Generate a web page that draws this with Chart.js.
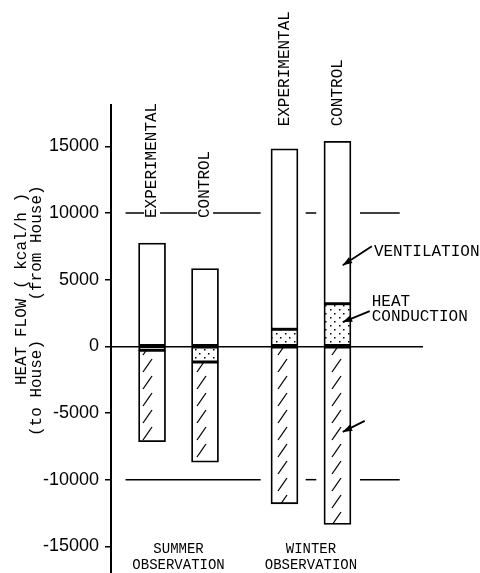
<!DOCTYPE html>
<html>
<head>
<meta charset="utf-8">
<script src="https://cdn.jsdelivr.net/npm/chart.js@4"></script>
<style>html,body{margin:0;padding:0;background:#fff}</style>
</head>
<body>
<canvas id="grafico" width="480" height="573"></canvas>
<script>
// Valores (kcal/h)
var grupos = [['SUMMER', 'OBSERVATION'], ['WINTER', 'OBSERVATION']];
var casas = ['EXPERIMENTAL', 'CONTROL', 'EXPERIMENTAL', 'CONTROL'];
var posX = [1, 3, 6, 8];              // posicao das colunas no eixo x
var ventilacao = [7750, 5830, 13530, 12170];
var conducao = [-300, -1180, 1280, 3200];
var paraCasa = [-6850, -7510, -11810, -13360];
var ticksY = [-15000, -10000, -5000, 0, 5000, 10000, 15000];

var MONO = '"Liberation Mono", "Courier New", monospace';

// textura pontilhada (conducao)
function padraoPontos() {
    var c = document.createElement('canvas');
    c.width = 9; c.height = 8;
    var g = c.getContext('2d');
    g.fillStyle = '#fff'; g.fillRect(0, 0, 9, 8);
    g.fillStyle = '#000';
    g.fillRect(1, 1, 1.5, 1.5);
    g.fillRect(6, 5, 1.5, 1.5);
    return g.createPattern(c, 'repeat');
}

// textura hachurada (fluxo para a casa)
function padraoHachura() {
    var c = document.createElement('canvas');
    c.width = 27; c.height = 17;
    var g = c.getContext('2d');
    g.fillStyle = '#fff'; g.fillRect(0, 0, 27, 17);
    g.strokeStyle = '#000'; g.lineWidth = 1.3;
    g.beginPath(); g.moveTo(8, 15); g.lineTo(17, 2); g.stroke();
    return g.createPattern(c, 'repeat');
}

function pontos(valores) {
    return valores.map(function (v, i) { return { x: posX[i], y: v }; });
}

function seta(ctx, x1, y1, x2, y2) {
    ctx.beginPath(); ctx.moveTo(x1, y1); ctx.lineTo(x2, y2); ctx.stroke();
    var a = Math.atan2(y2 - y1, x2 - x1);
    ctx.beginPath();
    ctx.moveTo(x2, y2);
    ctx.lineTo(x2 - 10 * Math.cos(a - 0.35), y2 - 10 * Math.sin(a - 0.35));
    ctx.lineTo(x2 - 10 * Math.cos(a + 0.35), y2 - 10 * Math.sin(a + 0.35));
    ctx.closePath(); ctx.fill();
}

// linhas de +-10000, textos e setas
var anotacoes = {
    id: 'anotacoes',
    beforeDatasetsDraw: function (chart) {
        var ctx = chart.ctx, sx = chart.scales.x, sy = chart.scales.y;
        var trechos = [[0, 5.1], [6.8, 7.2], [8.85, 10.35]];
        ctx.save();
        ctx.strokeStyle = '#000'; ctx.lineWidth = 1.5;
        [10000, -10000].forEach(function (v) {
            var y = sy.getPixelForValue(v);
            trechos.forEach(function (t) {
                ctx.beginPath();
                ctx.moveTo(sx.getPixelForValue(t[0]), y);
                ctx.lineTo(sx.getPixelForValue(t[1]), y);
                ctx.stroke();
            });
        });
        ctx.restore();
    },
    afterDatasetsDraw: function (chart) {
        var ctx = chart.ctx, sx = chart.scales.x, sy = chart.scales.y;
        ctx.save();
        ctx.fillStyle = '#000'; ctx.strokeStyle = '#000';
        ctx.font = '16px ' + MONO;
        ctx.textBaseline = 'middle';

        // nomes das casas, na vertical
        casas.forEach(function (nome, i) {
            var x = sx.getPixelForValue(posX[i]);
            var y = i < 2 ? sy.getPixelForValue(10000) + 5 : sy.getPixelForValue(16500);
            ctx.save();
            ctx.translate(x, y);
            ctx.rotate(-Math.PI / 2);
            var w = ctx.measureText(nome).width;
            ctx.fillStyle = '#fff';
            ctx.fillRect(-3, -8, w + 6, 16);
            ctx.fillStyle = '#000';
            ctx.textAlign = 'left';
            ctx.fillText(nome, 0, 0);
            ctx.restore();
        });

        // titulo do eixo y
        ctx.save();
        ctx.translate(22, 289); ctx.rotate(-Math.PI / 2);
        ctx.textAlign = 'center';
        ctx.fillText('HEAT FLOW ( kcal/h )', 0, 0);
        ctx.restore();
        ctx.save();
        ctx.translate(37, 243); ctx.rotate(-Math.PI / 2);
        ctx.textAlign = 'center';
        ctx.fillText('(from House)', 0, 0);
        ctx.restore();
        ctx.save();
        ctx.translate(37, 388); ctx.rotate(-Math.PI / 2);
        ctx.textAlign = 'center';
        ctx.fillText('(to House)', 0, 0);
        ctx.restore();

        // setas com legendas
        ctx.lineWidth = 1.8;
        var s1 = [sx.getPixelForValue(9.3), sy.getPixelForValue(7510)];
        seta(ctx, s1[0], s1[1], sx.getPixelForValue(8.2), sy.getPixelForValue(6090));
        ctx.textAlign = 'left';
        ctx.fillText('VENTILATION', s1[0] + 2, s1[1] + 6);

        var s2 = [sx.getPixelForValue(9.22), sy.getPixelForValue(2644)];
        seta(ctx, s2[0], s2[1], sx.getPixelForValue(8.2), sy.getPixelForValue(1820));
        ctx.fillText('HEAT', s2[0] + 2, s2[1] - 9);
        ctx.fillText('CONDUCTION', s2[0] + 2, s2[1] + 6);

        seta(ctx, sx.getPixelForValue(9.03), sy.getPixelForValue(-5594),
            sx.getPixelForValue(8.2), sy.getPixelForValue(-6418));

        // nomes dos periodos embaixo
        ctx.font = '14px ' + MONO;
        ctx.textAlign = 'center';
        grupos.forEach(function (g, i) {
            var x = sx.getPixelForValue((posX[2 * i] + posX[2 * i + 1]) / 2);
            ctx.fillText(g[0], x, sy.getPixelForValue(-15250));
            ctx.fillText(g[1], x, sy.getPixelForValue(-16400));
        });
        ctx.restore();
    }
};

var ctx = document.getElementById('grafico').getContext('2d');
var estilo = { borderColor: '#000', borderWidth: 1.8, borderSkipped: false, barThickness: 27 };

var grafico = new Chart(ctx, {
    type: 'bar',
    data: {
        datasets: [
            Object.assign({ label: 'HEAT CONDUCTION', data: pontos(conducao), backgroundColor: padraoPontos() }, estilo),
            Object.assign({ label: 'VENTILATION', data: pontos(ventilacao), backgroundColor: '#fff' }, estilo),
            Object.assign({ label: 'to House', data: pontos(paraCasa), backgroundColor: padraoHachura() }, estilo)
        ]
    },
    options: {
        responsive: false,
        animation: false,
        devicePixelRatio: 1,
        layout: { padding: { top: 105, right: 57, bottom: 0, left: 0 } },
        plugins: { legend: { display: false }, tooltip: { enabled: false } },
        scales: {
            x: {
                type: 'linear', display: false, stacked: true, offset: false,
                min: -0.55, max: 11.23
            },
            y: {
                stacked: true,
                min: -17000, max: 18100,
                afterBuildTicks: function (s) {
                    s.ticks = ticksY.map(function (v) { return { value: v }; });
                },
                afterFit: function (s) {
                    s.width = 111;
                    s.paddingTop = 0; s.paddingBottom = 0;
                },
                border: { color: '#000', width: 2 },
                grid: {
                    color: function (c) { return c.tick && c.tick.value === 0 ? '#000' : 'rgba(0,0,0,0)'; },
                    lineWidth: 1.5,
                    tickColor: '#000',
                    tickLength: 6
                },
                ticks: {
                    color: '#000',
                    padding: 6,
                    font: { family: '"Liberation Sans", Arial, sans-serif', size: 18 },
                    callback: function (v) { return String(v); }
                }
            }
        }
    },
    plugins: [anotacoes]
});
</script>
</body>
</html>
